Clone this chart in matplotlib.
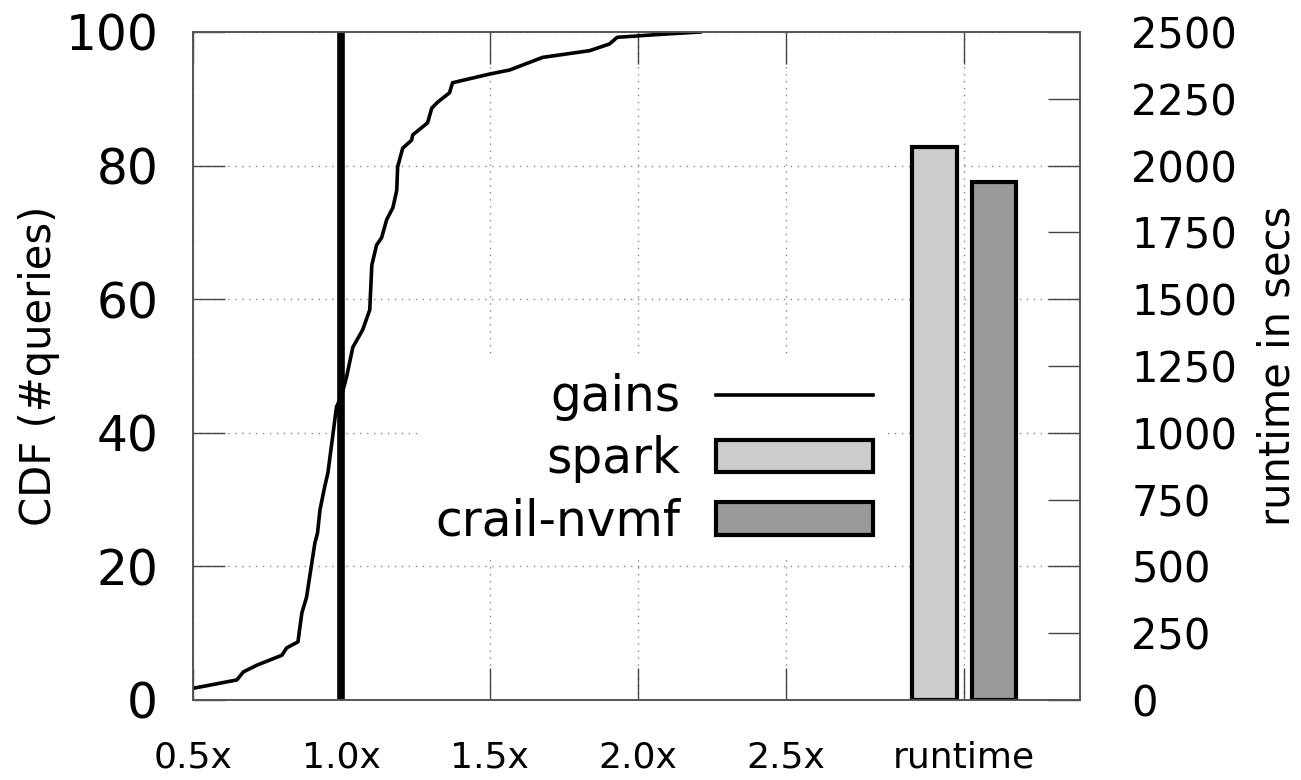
import numpy as np
import matplotlib
matplotlib.use('Agg')
import matplotlib.pyplot as plt

plt.rcParams['font.family'] = ['DejaVu Sans']

# CDF of per-query gains
gain_x = [0.507, 0.648, 0.67, 0.715, 0.80, 0.816, 0.854, 0.867, 0.883, 0.911,
          0.92, 0.928, 0.944, 0.955, 0.984, 1.0, 1.018, 1.039, 1.072, 1.096,
          1.103, 1.119, 1.136, 1.153, 1.174, 1.187, 1.19, 1.207, 1.237, 1.241,
          1.291, 1.305, 1.325, 1.365, 1.375, 1.50, 1.567, 1.679, 1.837, 1.904,
          1.93, 2.06, 2.21]
gain_y = [1.8, 3.0, 4.2, 5.2, 6.7, 7.8, 8.7, 13.0, 15.4, 23.5,
          25.0, 28.4, 31.9, 34.0, 43.9, 45.4, 48.4, 52.8, 55.4, 58.4,
          65.1, 68.1, 69.2, 71.9, 73.7, 76.3, 79.8, 82.6, 83.8, 84.6,
          86.4, 88.6, 89.5, 90.9, 92.4, 93.7, 94.3, 96.2, 97.2, 98.2,
          99.2, 99.6, 100.0]

# total runtime bars
systems = ['spark', 'crail-nvmf']
runtime = [2070, 1940]
bar_x = [3.0, 3.2]
bar_colors = ['#cccccc', '#999999']

xtick_pos = [0.5, 1.0, 1.5, 2.0, 2.5, 3.1]
xtick_labels = ['0.5x', '1.0x', '1.5x', '2.0x', '2.5x', 'runtime']

fig = plt.figure(figsize=(13.01, 7.8), dpi=100)
ax = fig.add_axes([0.1483, 0.1026, 0.6818, 0.8564])
ax2 = ax.twinx()

ax.grid(True, linestyle=(0, (1, 4)), color='#888888', lw=1)
ax.axvline(1.0, color='black', lw=5.5)
line, = ax.plot(gain_x, gain_y, color='black', lw=2.6)

bars = ax2.bar(bar_x, runtime, width=0.15, color=bar_colors,
               edgecolor='black', linewidth=3)

ax.set_xlim(0.5, 3.49)
ax.set_ylim(0, 100)
ax.set_yticks(np.arange(0, 101, 20))
ax.set_xticks(xtick_pos)
ax.set_xticklabels(xtick_labels)
ax2.set_ylim(0, 2500)
ax2.set_yticks(np.arange(0, 2501, 250))

ax.tick_params(axis='y', direction='in', length=23, width=1, labelsize=35, pad=25, color='#444444')
ax.tick_params(axis='x', direction='in', length=23, width=1, labelsize=26, pad=29,
               top=True, color='#444444')
ax2.tick_params(axis='y', direction='in', length=23, width=1, labelsize=30, pad=37, color='#444444')

for a in (ax, ax2):
    for s in a.spines.values():
        s.set_color('#555555')
        s.set_linewidth(1.2)

ax.set_ylabel('CDF (#queries)', fontsize=30, labelpad=4)
ax2.set_ylabel('runtime in secs', fontsize=30, labelpad=14)

leg = ax2.legend([line, bars[0], bars[1]], ['gains'] + systems,
                 loc='center right', bbox_to_anchor=(0.81, 0.36),
                 markerfirst=False, fontsize=35, handlelength=3.23,
                 handleheight=0.64, handletextpad=0.72, labelspacing=0.29,
                 borderpad=0.3, frameon=True, facecolor='white',
                 edgecolor='none', framealpha=1, fancybox=False)

fig.savefig('out.png', dpi=100)
